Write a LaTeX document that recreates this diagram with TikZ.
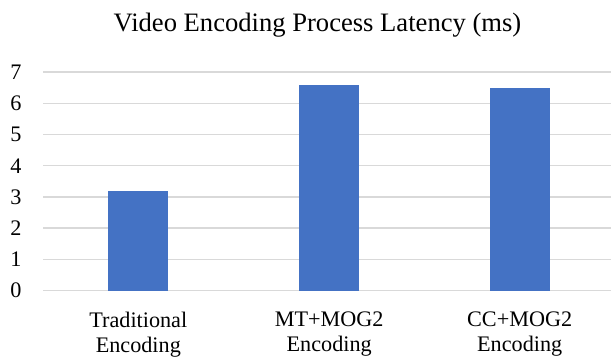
\documentclass[tikz,border=0pt]{standalone}
\usepackage{fontspec}
\setmainfont{Liberation Serif}
\usetikzlibrary{positioning}

\definecolor{barblue}{HTML}{4472C4}
\definecolor{gridgray}{HTML}{D9D9D9}

\tikzset{
  gridline/.style={draw=gridgray, line width=0.65pt},
  bar/.style={fill=barblue, draw=none},
  ticklabel/.style={anchor=east, inner sep=0pt, font=\fontsize{11.1}{12.5}\selectfont},
  catlabel/.style={align=center, inner sep=0pt, font=\fontsize{11.1}{12.5}\selectfont},
  charttitle/.style={inner sep=0pt, font=\fontsize{13.3}{15}\selectfont}
}

\begin{document}
\begin{tikzpicture}[x=0.5pt, y=0.5pt]
      \useasboundingbox (0,0) rectangle (611,361);

      % title
      \node[charttitle] (title) at (317.5,336) {Video Encoding Process Latency (ms)};

      % value axis and grid
      \foreach \v in {0,...,7} {
        \coordinate (gl\v) at (43,70.5+31.2*\v);
        \coordinate (gr\v) at (611,70.5+31.2*\v);
        \draw[gridline] (gl\v) -- (gr\v);
        \node[ticklabel] (tick\v) at (22,70.5+31.2*\v) {\v};
      }

      % bars
      \foreach \name/\xc/\val in {trad/138.3/3.2, mt/329.2/6.6, cc/519.7/6.5} {
        \fill[bar] (\xc-30,70.5) rectangle (\xc+30,70.5+31.2*\val);
      }

      % categories
      \node[catlabel] (cat1) at (138.3,26.5) {Traditional\\Encoding};
      \node[catlabel] (cat2) at (329.2,26.5) {MT+MOG2\\Encoding};
      \node[catlabel] (cat3) at (519.7,26.5) {CC+MOG2\\Encoding};
\end{tikzpicture}
\end{document}
